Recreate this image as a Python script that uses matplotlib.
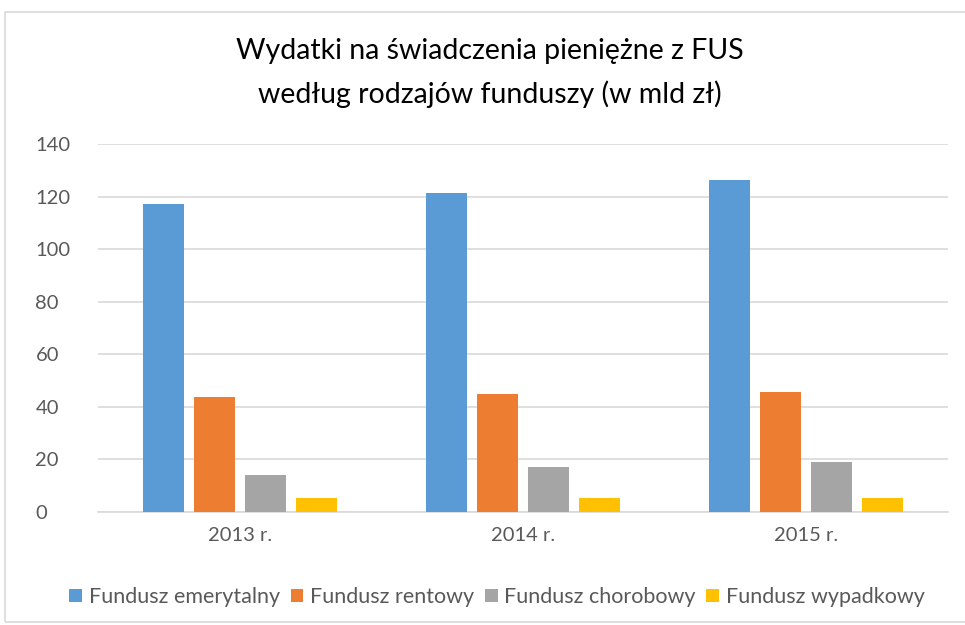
import matplotlib.pyplot as plt
import numpy as np
from matplotlib.patches import Rectangle

years = ["2013 r.", "2014 r.", "2015 r."]
series = ["Fundusz emerytalny", "Fundusz rentowy", "Fundusz chorobowy", "Fundusz wypadkowy"]
emerytalny = [117.0, 121.2, 126.2]
rentowy = [43.9, 44.8, 45.6]
chorobowy = [14.2, 17.0, 18.9]
wypadkowy = [5.3, 5.3, 5.3]
colors = ["#5B9BD5", "#ED7D31", "#A5A5A5", "#FFC000"]

plt.rcParams["font.family"] = ["Lato", "DejaVu Sans"]
text_color = "#595959"

fig = plt.figure(figsize=(9.65, 6.25), dpi=100)
ax = fig.add_axes([98 / 965, 1 - 512 / 625, 850 / 965, 368 / 625])

x = np.arange(len(years))
step = 0.18
width = 0.145
for i, (vals, c) in enumerate(zip([emerytalny, rentowy, chorobowy, wypadkowy], colors)):
    ax.bar(x + (i - 1.5) * step, vals, width, color=c, label=series[i], zorder=3)

ax.set_xlim(-0.5, 2.5)
ax.set_ylim(0, 140)
ax.set_yticks(range(0, 141, 20))
ax.set_xticks(x)
ax.set_xticklabels(years)
ax.yaxis.grid(True, color="#D9D9D9", linewidth=1.2, zorder=0)
for s in ["top", "right", "left"]:
    ax.spines[s].set_visible(False)
ax.spines["bottom"].set_color("#D9D9D9")
ax.spines["bottom"].set_linewidth(1.2)
ax.tick_params(axis="both", length=0, labelsize=14.5, colors=text_color)
ax.tick_params(axis="x", pad=11)
ax.tick_params(axis="y", pad=45)
for lbl in ax.get_yticklabels():
    lbl.set_horizontalalignment("left")

fig.text(0.508, 1 - 51 / 625, "Wydatki na świadczenia pieniężne z FUS", ha="center", va="center",
         fontsize=20.5, color="#000000")
fig.text(0.508, 1 - 94 / 625, "według rodzajów funduszy (w mld zł)", ha="center", va="center",
         fontsize=20.5, color="#000000")

fig.legend(loc="center", bbox_to_anchor=(0.515, 1 - 597 / 625), ncol=4, frameon=False,
           fontsize=15.5, labelcolor=text_color, handlelength=0.6, handleheight=0.6,
           handletextpad=0.3, columnspacing=0.5)

fig.patches.append(Rectangle((5 / 965, 0.005), 1.0, 1 - 12 / 625 - 0.005, transform=fig.transFigure,
                             fill=False, edgecolor="#D9D9D9", linewidth=1.2))

fig.savefig("out.png", dpi=100, facecolor="white")
